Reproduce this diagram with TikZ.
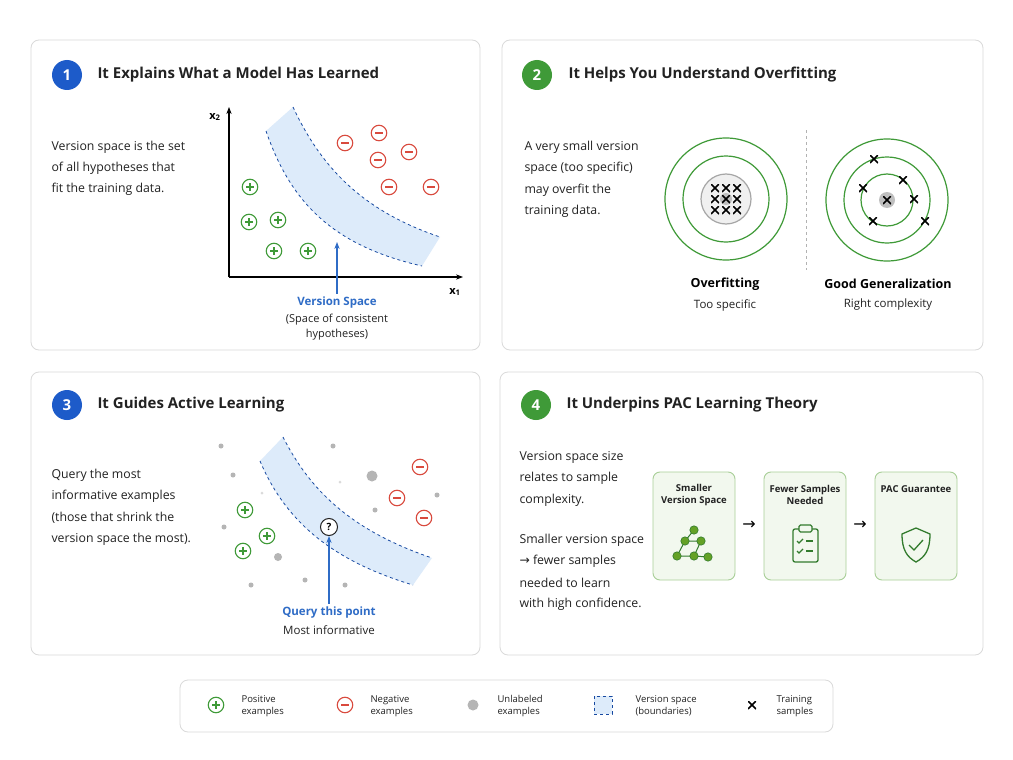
\documentclass[tikz,border=0pt]{standalone}
\usepackage{fontspec}
\setmainfont{Open Sans}
\newfontfamily\symf{DejaVu Sans}
\usetikzlibrary{arrows.meta}
\definecolor{gr}{HTML}{3F9A38}
\definecolor{rd}{HTML}{D94A3E}
\definecolor{bl}{HTML}{1D5BC9}
\definecolor{blt}{HTML}{2F6CC6}
\definecolor{band}{HTML}{DDEBFA}
\definecolor{bdr}{HTML}{DADADA}
\definecolor{dg}{HTML}{B5B5B5}
\definecolor{txt}{HTML}{222222}
\definecolor{lg}{HTML}{F2F8EE}
\definecolor{lgb}{HTML}{A9CF98}
\tikzset{
 panel/.style={draw=bdr,line width=0.8pt,rounded corners=8pt,fill=white},
 badge/.style={circle,minimum size=30pt,inner sep=0pt,text=white,font=\bfseries\fontsize{15}{15}\selectfont},
 ttl/.style={anchor=west,font=\bfseries\fontsize{15}{15}\selectfont,text=txt},
 body/.style={anchor=west,font=\fontsize{12.3}{14}\selectfont,text=txt},
 capt/.style={align=center,font=\fontsize{11.5}{14}\selectfont,text=txt},
 posn/.style={circle,draw=gr,line width=1.1pt,minimum size=15.5pt,inner sep=0pt,
   path picture={\draw[gr,line width=1.3pt] ([xshift=-3.8pt]path picture bounding box.center) -- ([xshift=3.8pt]path picture bounding box.center);
   \draw[gr,line width=1.3pt] ([yshift=-3.8pt]path picture bounding box.center) -- ([yshift=3.8pt]path picture bounding box.center);}},
 negn/.style={circle,draw=rd,line width=1.1pt,minimum size=15.5pt,inner sep=0pt,
   path picture={\draw[rd,line width=1.3pt] ([xshift=-3.8pt]path picture bounding box.center) -- ([xshift=3.8pt]path picture bounding box.center);}},
 udot/.style={circle,fill=dg,inner sep=0pt,minimum size=5pt},
 xm/.style={inner sep=0pt,minimum size=8pt,
   path picture={\draw[black,line width=1.6pt] (path picture bounding box.south west) -- (path picture bounding box.north east);
   \draw[black,line width=1.6pt] (path picture bounding box.north west) -- (path picture bounding box.south east);}},
 vs/.style={dashed,draw=bl!80!black,line width=0.8pt},
 leg/.style={anchor=west,align=left,font=\fontsize{9.5}{12}\selectfont,text=txt},
 stepb/.style={draw=lgb,fill=lg,line width=0.9pt,rounded corners=7pt},
 stept/.style={align=center,font=\bfseries\fontsize{9.5}{12}\selectfont,text=txt},
}
\begin{document}
\begin{tikzpicture}[x=1pt,y=-1pt]
\fill[white] (0,0) rectangle (1013,760);
\useasboundingbox (0,0) rectangle (1013,760);
% panels
\draw[panel] (31,40) rectangle (480,350);
\draw[panel] (502,40) rectangle (983,350);
\draw[panel] (31,372) rectangle (480,655);
\draw[panel] (500,372) rectangle (983,655);
\draw[panel] (180,680) rectangle (833,732);
% badges + titles
\node[badge,fill=bl] (b1) at (67,75) {1};
\node[ttl] (t1) at (94,75) {It Explains What a Model Has Learned};
\node[badge,fill=gr] (b2) at (537,75) {2};
\node[ttl] (t2) at (565,75) {It Helps You Understand Overfitting};
\node[badge,fill=bl] (b3) at (67,405) {3};
\node[ttl] (t3) at (94,405) {It Guides Active Learning};
\node[badge,fill=gr] (b4) at (536,405) {4};
\node[ttl] (t4) at (563,405) {It Underpins PAC Learning Theory};
% ---- panel 1
\node[body] at (48,147) {Version space is the set};
\node[body] at (48,168) {of all hypotheses that};
\node[body] at (48,189) {fit the training data.};
\coordinate (o) at (229,277);
\coordinate (ya) at (229,107);
\coordinate (xa) at (463,277);
\fill[band] (266,131) .. controls (290,200) and (330,245) .. (422,266) -- (440,237) .. controls (360,210) and (320,165) .. (293,107) -- cycle;
\draw[vs] (266,131) .. controls (290,200) and (330,245) .. (422,266);
\draw[vs] (293,107) .. controls (320,165) and (360,210) .. (440,237);
\draw[line width=1.2pt,-{Stealth[length=7pt]}] (o) -- (ya);
\draw[line width=1.2pt,-{Stealth[length=7pt]}] (o) -- (xa);
\node[font=\bfseries\fontsize{11}{11}\selectfont] at (215,117) {x\textsubscript{2}};
\node[font=\bfseries\fontsize{11}{11}\selectfont] at (455,292) {x\textsubscript{1}};
\foreach \p in {(250,187),(249,222),(278,220),(274,251),(308,251)} \node[posn] at \p {};
\foreach \p in {(345,143),(379,133),(378,160),(409,152),(389,187),(431,187)} \node[negn] at \p {};
\node[font=\bfseries\fontsize{11.5}{13}\selectfont,text=blt] (vsl) at (337,303) {Version Space};
\node[capt,font=\fontsize{11}{14.5}\selectfont] at (337,327) {(Space of consistent\\hypotheses)};
\coordinate (vsa) at (337,242);
\draw[blt,line width=1.1pt,-{Stealth[length=7pt]}] (vsl.north) -- (vsa);
% ---- panel 2
\node[body] at (521,147) {A very small version};
\node[body] at (521,168) {space (too specific)};
\node[body] at (521,190) {may overfit the};
\node[body] at (521,211) {training data.};
\node[circle,draw=gr,line width=1.2pt,minimum size=122pt] (l1) at (726,199) {};
\node[circle,draw=gr,line width=1.2pt,minimum size=86pt] (l2) at (726,199) {};
\node[circle,draw=gray!70,line width=1.2pt,fill=gray!12,minimum size=50pt] (l3) at (726,199) {};
\fill[gray!50] (726,199) circle (6);
\foreach \i in {-1,0,1} \foreach \j in {-1,0,1} \node[xm] at ({726+11*\i},{199+11*\j}) {};
\draw[dashed,gray!60,line width=0.8pt] (806,130) -- (806,270);
\node[circle,draw=gr,line width=1.2pt,minimum size=122pt] (r1) at (887,200) {};
\node[circle,draw=gr,line width=1.2pt,minimum size=86pt] (r2) at (887,200) {};
\node[circle,draw=gr,line width=1.2pt,minimum size=52pt] (r3) at (887,200) {};
\fill[gray!50] (887,200) circle (8);
\node[xm] at (887,200) {};
\foreach \p in {(874,159),(863,188),(914,199),(873,221),(925,221),(903,180)} \node[xm] at \p {};
\node[font=\bfseries\fontsize{12.5}{14}\selectfont] at (725,284) {Overfitting};
\node[capt] at (725,305) {Too specific};
\node[font=\bfseries\fontsize{12.5}{14}\selectfont] at (888,284) {Good Generalization};
\node[capt] at (888,305) {Right complexity};
% ---- panel 3
\node[body] at (48,475) {Query the most};
\node[body] at (48,496) {informative examples};
\node[body] at (48,518) {(those that shrink the};
\node[body] at (48,539) {version space the most).};
\fill[band] (260,461) .. controls (285,520) and (330,560) .. (413,585) -- (432,558) .. controls (350,530) and (310,490) .. (283,437) -- cycle;
\draw[vs] (260,461) .. controls (285,520) and (330,560) .. (413,585);
\draw[vs] (283,437) .. controls (310,490) and (350,530) .. (432,558);
\foreach \p in {(221,446),(333,446),(233,475),(437,495),(375,510),(224,527),(251,585),(305,580),(345,585)} \node[udot] at \p {};
\foreach \p in {(340,482),(262,493)} \node[udot,minimum size=3pt,fill=dg!50] at \p {};
\node[udot,minimum size=11pt] at (372,476) {};
\node[udot,minimum size=8pt] at (278,557) {};
\foreach \p in {(245,510),(267,536),(243,551)} \node[posn] at \p {};
\foreach \p in {(420,467),(397,498),(424,518)} \node[negn] at \p {};
\node[circle,draw=txt,fill=white,line width=1pt,minimum size=17pt,inner sep=0pt,font=\bfseries\fontsize{10}{10}\selectfont] (q) at (329,527) {?};
\node[font=\bfseries\fontsize{11.5}{13}\selectfont,text=blt] (qt) at (329,613) {Query this point};
\node[capt,font=\fontsize{11.5}{13}\selectfont] at (329,630) {Most informative};
\draw[blt,line width=1.1pt,-{Stealth[length=7pt]}] (qt.north) -- (q.south);
% ---- panel 4
\node[body] at (516,457) {Version space size};
\node[body] at (516,478) {relates to sample};
\node[body] at (516,500) {complexity.};
\node[body] at (516,540) {Smaller version space};
\node[body] at (516,561) {{\symf →} fewer samples};
\node[body] at (516,583) {needed to learn};
\node[body] at (516,604) {with high confidence.};
\draw[stepb] (653,472) rectangle (735,580);
\draw[stepb] (764,472) rectangle (846,580);
\draw[stepb] (875,472) rectangle (957,580);
\node[stept] (s1) at (694,495) {Smaller\\Version Space};
\node[stept] (s2) at (805,495) {Fewer Samples\\Needed};
\node[stept] (s3) at (916,489) {PAC Guarantee};
\node[font=\symf\fontsize{16}{16}\selectfont] at (749,525) {→};
\node[font=\symf\fontsize{16}{16}\selectfont] at (860,525) {→};
% graph icon
\begin{scope}[line width=1pt,draw=gr!80!black]
\draw (694,530) -- (685,541) -- (677,556) -- (694,556) -- (708,557);
\draw (685,541) -- (701,541) -- (694,556);
\end{scope}
\foreach \p in {(694,530),(685,541),(701,541),(677,556),(694,556),(708,557)} \fill[gr!75!yellow!90!black,draw=gr!80!black,line width=0.6pt] \p circle (4.2);
% clipboard
\begin{scope}[gr!80!black,line width=1.3pt]
\draw[rounded corners=2pt] (793,529) rectangle (818,562);
\draw[rounded corners=1.5pt,fill=lg] (799,525) rectangle (812,532);
\draw (797,541) -- (799,543) -- (803,539);
\draw (806,541) -- (813,541);
\draw (797,551) -- (799,553) -- (803,549);
\draw (806,551) -- (813,551);
\end{scope}
% shield
\begin{scope}[gr!80!black,line width=1.3pt]
\draw (916,528) -- (930,534) .. controls (930,550) and (925,557) .. (916,562) .. controls (907,557) and (902,550) .. (902,534) -- cycle;
\draw (909,545) -- (914,550) -- (923,540);
\end{scope}
% ---- legend
\node[posn] at (216,705) {};
\node[leg] at (238,706) {Positive\\examples};
\node[negn] at (345,705) {};
\node[leg] at (367,706) {Negative\\examples};
\node[udot,minimum size=11pt] at (473,705) {};
\node[leg] at (494,706) {Unlabeled\\examples};
\draw[vs,fill=band,line width=0.6pt] (594,696) rectangle (612,714);
\node[leg] at (632,706) {Version space\\(boundaries)};
\node[xm] at (752,705) {};
\node[leg] at (773,706) {Training\\samples};
\end{tikzpicture}
\end{document}
